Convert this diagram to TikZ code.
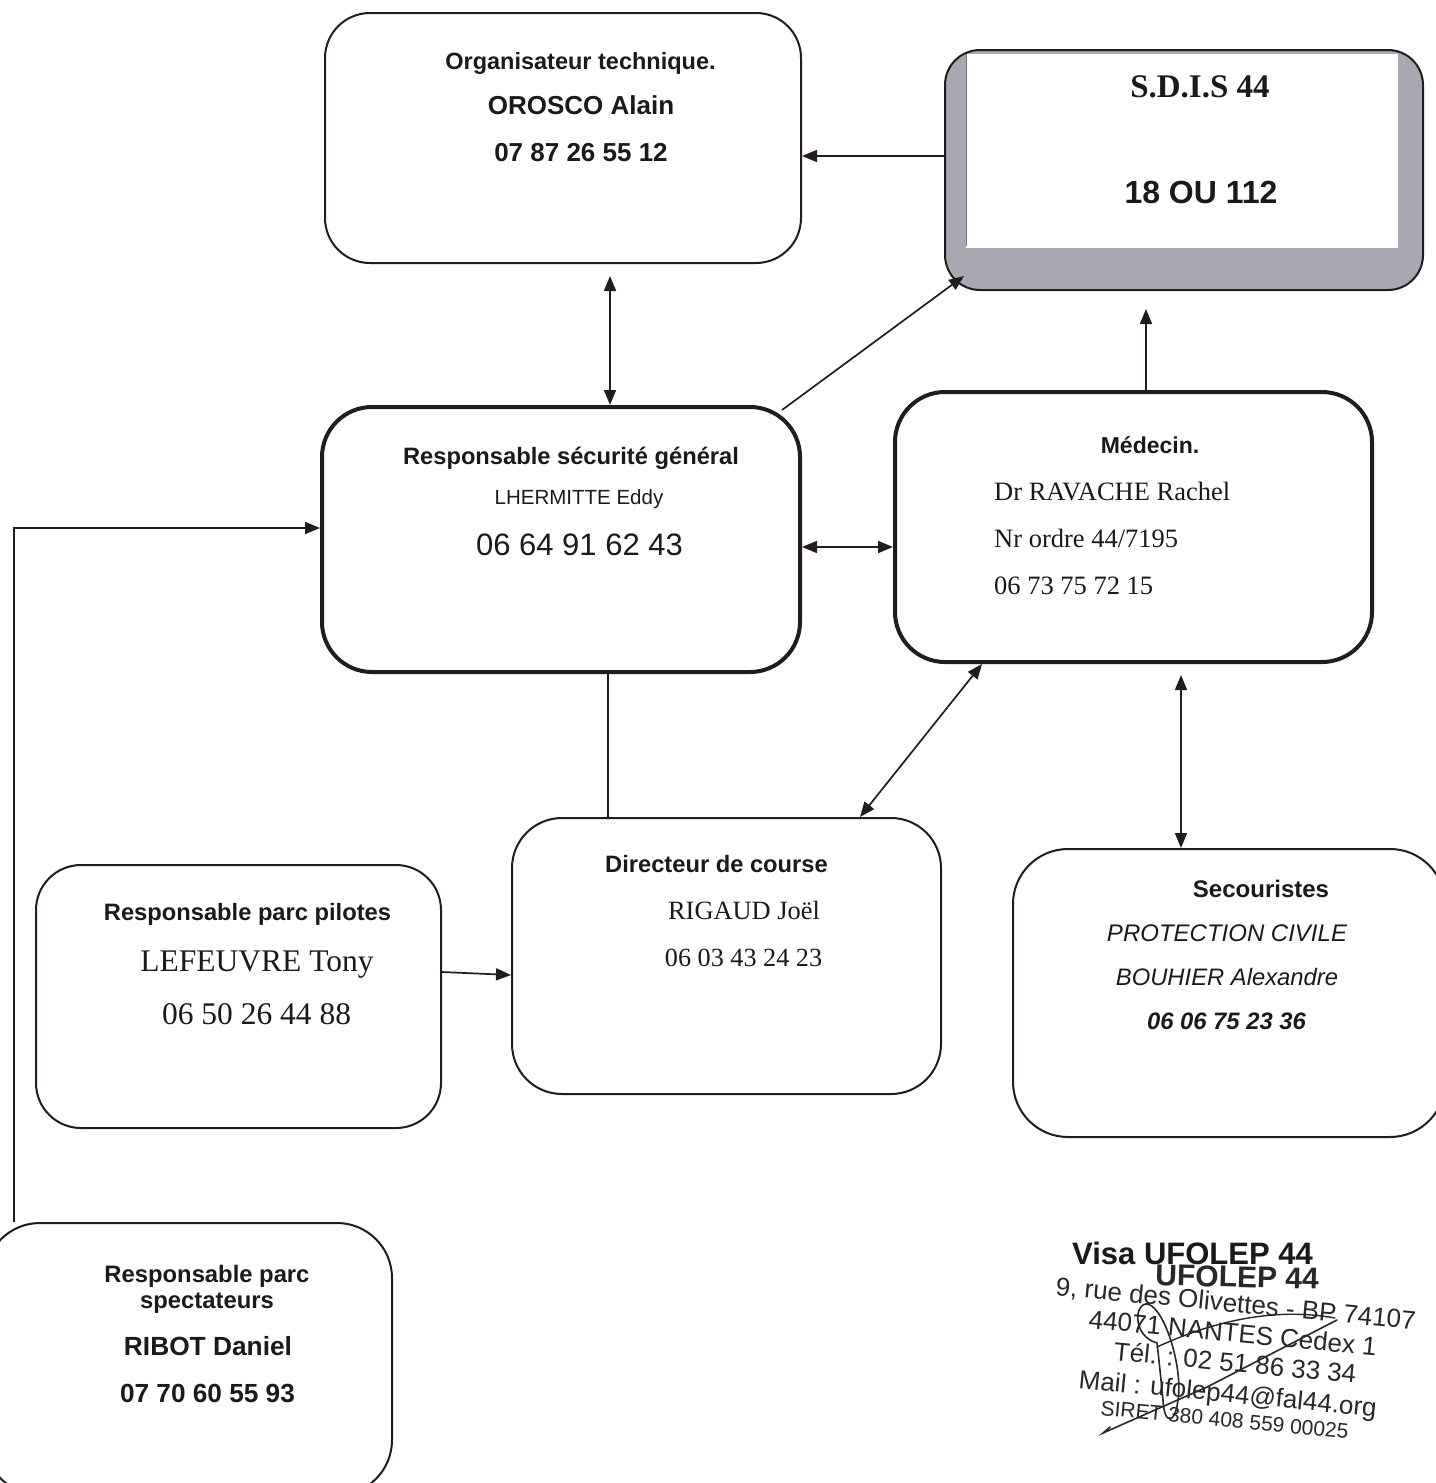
\documentclass[tikz,border=0pt]{standalone}
\usepackage{fontspec}
\setmainfont{Liberation Serif}
\setsansfont{Liberation Sans}
\usetikzlibrary{arrows.meta}
\newcommand\myfs[1]{\fontsize{#1}{#1}\selectfont}
\definecolor{linec}{RGB}{34,28,30}
\definecolor{textc}{RGB}{26,26,26}
\definecolor{sdisgray}{RGB}{168,168,178}
\definecolor{stampc}{RGB}{40,40,40}
\begin{document}
\begin{tikzpicture}[x=1pt,y=-1pt,
  box/.style={draw=linec, line width=2pt, fill=white, rectangle, inner sep=0pt},
  thickbox/.style={box, line width=4pt},
  txt/.style={anchor=base, inner sep=0pt, text=textc},
  conn/.style={draw=linec, line width=1.7pt},
  arr/.style={-{Triangle[length=15pt,width=12pt]}},
  darr/.style={{Triangle[length=15pt,width=12pt]}-{Triangle[length=15pt,width=12pt]}},
  stamptxt/.style={anchor=base west, inner sep=0pt, text=stampc, font=\sffamily\myfs{26}, rotate=-5.5}
]
\useasboundingbox (0,0) rectangle (1435,1483);
\fill[white] (0,0) rectangle (1435,1483);

% boxes
\node[box, rounded corners=45pt, minimum width=476pt, minimum height=250pt] (org) at (563,138) {};
\node[box, rounded corners=35pt, fill=sdisgray, minimum width=478pt, minimum height=240pt] (sdis) at (1184,170) {};
\fill[white] (sdis.north west) ++(22pt,-5pt) coordinate (sdisa) rectangle ([xshift=-26pt,yshift=43pt]sdis.south east);
\draw[sdisgray!70!black, line width=0.6pt] (sdisa) -- ++(0pt,-192pt);
\node[thickbox, rounded corners=50pt, minimum width=478pt, minimum height=265pt] (sec) at (561,539.5) {};
\node[thickbox, rounded corners=50pt, minimum width=477pt, minimum height=270pt] (med) at (1133.5,527) {};
\node[box, rounded corners=50pt, minimum width=429pt, minimum height=276pt] (dir) at (726.5,956) {};
\node[box, rounded corners=45pt, minimum width=405pt, minimum height=263pt] (pil) at (238.5,996.5) {};
\node[box, rounded corners=55pt, minimum width=432pt, minimum height=288pt] (secu) at (1229,993) {};
\node[box, rounded corners=55pt, minimum width=407pt, minimum height=272pt] (spec) at (188.5,1359) {};

% texts
\node[txt, font=\sffamily\bfseries\myfs{23.5}] (t1) at (580.5,69) {Organisateur technique.};
\node[txt, font=\sffamily\bfseries\myfs{26}] (t2) at (581,114) {OROSCO Alain};
\node[txt, font=\sffamily\bfseries\myfs{26}] (t3) at (581,161) {07 87 26 55 12};

\node[txt, font=\rmfamily\bfseries\myfs{33}] (t4) at (1200,97) {S.D.I.S 44};
\node[txt, font=\sffamily\bfseries\myfs{32}] (t5) at (1201,203) {18 OU 112};

\node[txt, font=\sffamily\bfseries\myfs{23.7}] (t6) at (571,464) {Responsable sécurité général};
\node[txt, font=\sffamily\myfs{20.5}] (t7) at (579,504) {LHERMITTE Eddy};
\node[txt, font=\sffamily\myfs{31}] (t8) at (579.5,555) {06 64 91 62 43};

\node[txt, font=\sffamily\bfseries\myfs{23}] (t9) at (1150,453) {Médecin.};
\node[txt, anchor=base west, font=\rmfamily\myfs{26.5}] (t10) at (994,500) {Dr RAVACHE Rachel};
\node[txt, anchor=base west, font=\rmfamily\myfs{26.5}] (t11) at (994,547) {Nr ordre 44/7195};
\node[txt, anchor=base west, font=\rmfamily\myfs{26.5}] (t12) at (994,594) {06 73 75 72 15};

\node[txt, font=\sffamily\bfseries\myfs{23.7}] (t13) at (716.5,872) {Directeur de course};
\node[txt, font=\rmfamily\myfs{26.4}] (t14) at (744,919) {RIGAUD Joël};
\node[txt, font=\rmfamily\myfs{26.2}] (t15) at (743.5,966) {06 03 43 24 23};

\node[txt, font=\sffamily\bfseries\myfs{23.7}] (t16) at (247.5,920) {Responsable parc pilotes};
\node[txt, font=\rmfamily\myfs{31.5}] (t17) at (257,971) {LEFEUVRE Tony};
\node[txt, font=\rmfamily\myfs{31.5}] (t18) at (256.5,1024) {06 50 26 44 88};

\node[txt, font=\sffamily\bfseries\myfs{24}] (t19) at (1261,897) {Secouristes};
\node[txt, font=\sffamily\itshape\myfs{24}] (t20) at (1227,941) {PROTECTION CIVILE};
\node[txt, font=\sffamily\itshape\myfs{23.8}] (t21) at (1227,985) {BOUHIER Alexandre};
\node[txt, font=\sffamily\bfseries\itshape\myfs{23.8}] (t22) at (1226.5,1029) {06 06 75 23 36};

\node[txt, font=\sffamily\bfseries\myfs{23.8}] (t23) at (207,1282) {Responsable parc};
\node[txt, font=\sffamily\bfseries\myfs{23.8}] (t24) at (207,1308) {spectateurs};
\node[txt, font=\sffamily\bfseries\myfs{26.3}] (t25) at (208,1355) {RIBOT Daniel};
\node[txt, font=\sffamily\bfseries\myfs{26.2}] (t26) at (207.5,1402) {07 70 60 55 93};

% connectors
\draw[conn, arr] ([yshift=14pt]sdis.west) -- ([yshift=-18pt]org.east);
\draw[conn, darr] ([xshift=49pt]sec.north) -- ([xshift=47pt,yshift=-12pt]org.south);
\draw[conn, arr] ([xshift=-20pt,yshift=-5pt]sec.north east) -- ([xshift=20pt,yshift=15pt]sdis.south west);
\draw[conn, arr] ([xshift=12.5pt]med.north) -- ([xshift=-38pt,yshift=-18pt]sdis.south);
\draw[conn, darr] ([yshift=-7.5pt]sec.east) -- ([yshift=-20pt]med.west);
\draw[conn, arr] ([xshift=-174.5pt]spec.north) |- ([yshift=11.5pt]sec.west);
\draw[conn] ([xshift=47pt]sec.south) -- ([xshift=-118.5pt]dir.north);
\draw[conn, darr] ([xshift=133.5pt]dir.north) -- ([xshift=-151.5pt]med.south);
\draw[conn, darr] ([xshift=47.5pt,yshift=-11pt]med.south) -- ([xshift=-48pt]secu.north);
\draw[conn, arr] ([yshift=24.5pt]pil.east) -- ([yshift=-19pt]dir.west);

% stamp
\node[txt, anchor=base west, font=\sffamily\bfseries\myfs{31}] (v1) at (1072,1264) {Visa UFOLEP 44};
\node[txt, anchor=base west, text=stampc, font=\sffamily\bfseries\myfs{30}, rotate=-1.5] (v2) at (1155,1285) {UFOLEP 44};
\node[stamptxt] (v3) at (1055,1295) {9, rue des Olivettes - BP 74107};
\node[stamptxt] (v4) at (1088,1328) {44071 NANTES Cedex 1};
\node[stamptxt] (v5) at (1113,1360) {Tél. : 02 51 86 33 34};
\node[stamptxt] (v6) at (1078,1388) {Mail : ufolep44@fal44.org};
\node[stamptxt, font=\sffamily\myfs{21}] (v7) at (1100,1415) {SIRET 380 408 559 00025};

% signature
\draw[stampc, line width=1.6pt, line cap=round]
  (1157,1343) .. controls (1132,1336) and (1134,1302) .. (1148,1304)
  .. controls (1166,1310) and (1183,1370) .. (1178,1400)
  .. controls (1175,1425) and (1164,1425) .. (1163,1400)
  .. controls (1161,1380) and (1159,1360) .. (1157,1343);
\draw[stampc, line width=1.6pt, line cap=round]
  (1110,1427) -- (1103,1433) -- (1207,1387) -- (1337,1320);
\draw[stampc, line width=1.4pt, line cap=round]
  (1157,1347) .. controls (1220,1318) and (1280,1308) .. (1335,1318);
\end{tikzpicture}
\end{document}
